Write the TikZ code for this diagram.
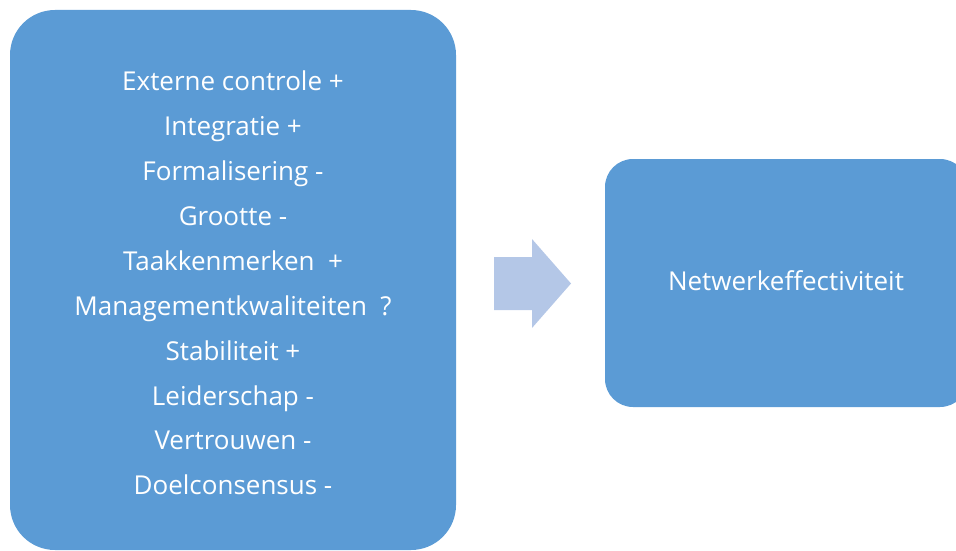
\documentclass[tikz,border=0pt]{standalone}
\usepackage{fontspec}
\setmainfont{Open Sans}
\definecolor{boxblue}{HTML}{5B9BD5}
\definecolor{arrowblue}{HTML}{B4C7E7}
\begin{document}
\begin{tikzpicture}[x=1pt,y=1pt,
  blockbox/.style={fill=boxblue,draw=none},
  boxtext/.style={text=white,align=center,inner sep=0pt}]
\useasboundingbox (0,0) rectangle (956,-551);
\fill[blockbox,rounded corners=45pt] (10,-10) rectangle (456,-550);
\fill[blockbox,rounded corners=28pt] (605,-159) rectangle (968,-407);
\node[boxtext,font=\fontsize{26}{44.9}\selectfont] (list) at (233,-283) {Externe controle +\\Integratie +\\Formalisering -\\Grootte -\\Taakkenmerken\ \ +\\Managementkwaliteiten\ \ ?\\Stabiliteit +\\Leiderschap -\\Vertrouwen -\\Doelconsensus -};
\node[boxtext,font=\fontsize{26}{31}\selectfont] (goal) at (786,-281) {Netwerkeffectiviteit};
\fill[arrowblue] (494,-257) -- (532,-257) -- (532,-239) -- (571,-283.5) -- (532,-328) -- (532,-310) -- (494,-310) -- cycle;
\end{tikzpicture}
\end{document}
